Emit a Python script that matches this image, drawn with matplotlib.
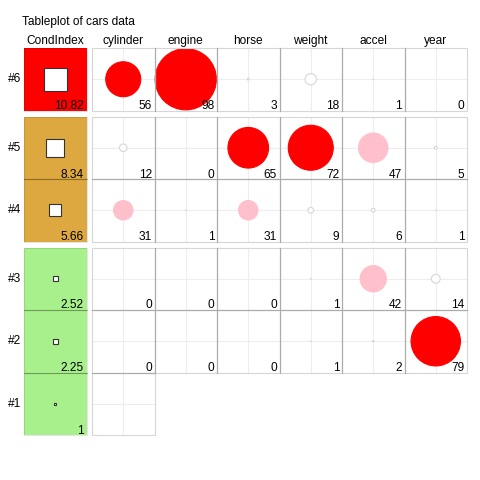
import matplotlib
matplotlib.use("Agg")
import matplotlib.pyplot as plt
from matplotlib.patches import Rectangle, Circle

# ---- data ----
title = "Tableplot of cars data"
variables = ["cylinder", "engine", "horse", "weight", "accel", "year"]
row_labels = ["#6", "#5", "#4", "#3", "#2", "#1"]
cond_index = [10.82, 8.34, 5.66, 2.52, 2.25, 1.0]
cond_labels = ["10.82", "8.34", "5.66", "2.52", "2.25", "1"]
# variance proportions (percent), rows #6..#2; row #1 only has an empty cylinder cell
prop_6 = [56, 98, 3, 18, 1, 0]
prop_5 = [12, 0, 65, 72, 47, 5]
prop_4 = [31, 1, 31, 9, 6, 1]
prop_3 = [0, 0, 0, 1, 42, 14]
prop_2 = [0, 0, 0, 1, 2, 79]
props = [prop_6, prop_5, prop_4, prop_3, prop_2]
groups = [[0], [1, 2], [3, 4, 5]]   # row groupings

# ---- style ----
RED = "#FF0000"
PINK = "#FFC0CB"
GOLD = "#DDA83F"
GREEN = "#A8F08C"
DARK = "#ABABAB"
LIGHT = "#D6D6D6"
GRID = "#EDEDED"
FS = 8.6

fig = plt.figure(figsize=(4.8, 4.8), dpi=100)
ax = fig.add_axes([0, 0, 1, 1])
ax.set_xlim(0, 480)
ax.set_ylim(480, 0)
ax.axis("off")

c = 62.5
ci_x0 = 24.0
var_x0 = 92.0
top0 = 48.0
gap = 6.0

# row tops
row_top = {}
y = top0
for g in groups:
    for r in g:
        row_top[r] = y
        y += c
    y += gap

def cond_color(v):
    if v > 10:
        return RED
    if v > 5:
        return GOLD
    return GREEN

def prop_color(v):
    if v >= 50:
        return RED
    if v >= 20:
        return PINK
    return "white"

ax.text(22, 25.5, title, fontsize=FS, ha="left", va="baseline", family="Liberation Sans")
ax.text(ci_x0 + c / 2, 44, "CondIndex", fontsize=FS, ha="center", va="baseline", family="Liberation Sans")
for j, name in enumerate(variables):
    ax.text(var_x0 + c * j + c / 2, 44, name, fontsize=FS, ha="center", va="baseline", family="Liberation Sans")

lw = 0.8
for g in groups:
    for r in g:
        t = row_top[r]
        b = t + c
        # row label
        ax.text(21.5, t + c / 2, row_labels[r], fontsize=FS, ha="right", va="center", family="Liberation Sans")
        # condition index cell
        col = cond_color(cond_index[r])
        ax.add_patch(Rectangle((ci_x0, t), c, c, facecolor=col, edgecolor="none", zorder=1))
        s = cond_index[r] * 2.15
        ax.add_patch(Rectangle((ci_x0 + c / 2 - s / 2, t + c / 2 - s / 2), s, s,
                               facecolor="white", edgecolor="#333333", lw=lw, zorder=3))
        ax.text(ci_x0 + c - 2.5, b - 1.5, cond_labels[r], fontsize=FS, ha="right", va="baseline",
                family="Liberation Sans", zorder=4)
        # variable cells
        if r < len(props):
            vals = props[r]
            ncols = len(variables)
        else:
            vals = None
            ncols = 1
        for j in range(ncols):
            x0 = var_x0 + c * j
            cx, cy = x0 + c / 2, t + c / 2
            ax.plot([x0, x0 + c], [cy, cy], color=GRID, lw=lw, zorder=1)
            ax.plot([cx, cx], [t, b], color=GRID, lw=lw, zorder=1)
            if vals is not None:
                v = vals[j]
                if v > 0:
                    rad = v / 100.0 * c / 2
                    fc = prop_color(v)
                    ec = LIGHT if fc == "white" else fc
                    ax.add_patch(Circle((cx, cy), rad, facecolor=fc, edgecolor=ec, lw=lw, zorder=2))
                ax.text(x0 + c - 2.5, b - 1.5, str(v), fontsize=FS, ha="right", va="baseline",
                        family="Liberation Sans", zorder=4)
            # outer light border
            ax.add_patch(Rectangle((x0, t), c, c, facecolor="none", edgecolor=LIGHT, lw=lw, zorder=3))
        # condition cell light border
        ax.add_patch(Rectangle((ci_x0, t), c, c, facecolor="none", edgecolor=(0, 0, 0, 0.1), lw=lw, zorder=2))

    # dark separators inside group
    full_rows = [r for r in g if r < len(props)]
    if full_rows:
        ft = row_top[full_rows[0]]
        fb = row_top[full_rows[-1]] + c
        for j in range(1, len(variables)):
            x = var_x0 + c * j
            ax.plot([x, x], [ft, fb], color=DARK, lw=lw, zorder=3.5)
    for r in g[1:]:
        yy = row_top[r]
        ncols = len(variables) if (r - 1) < len(props) and r < len(props) else 1
        ax.plot([var_x0, var_x0 + c * ncols], [yy, yy], color=DARK, lw=lw, zorder=3.5)
        ax.plot([ci_x0, ci_x0 + c], [yy, yy], color=(0, 0, 0, 0.2), lw=lw, zorder=3.5)

fig.savefig("out.png", dpi=100)
